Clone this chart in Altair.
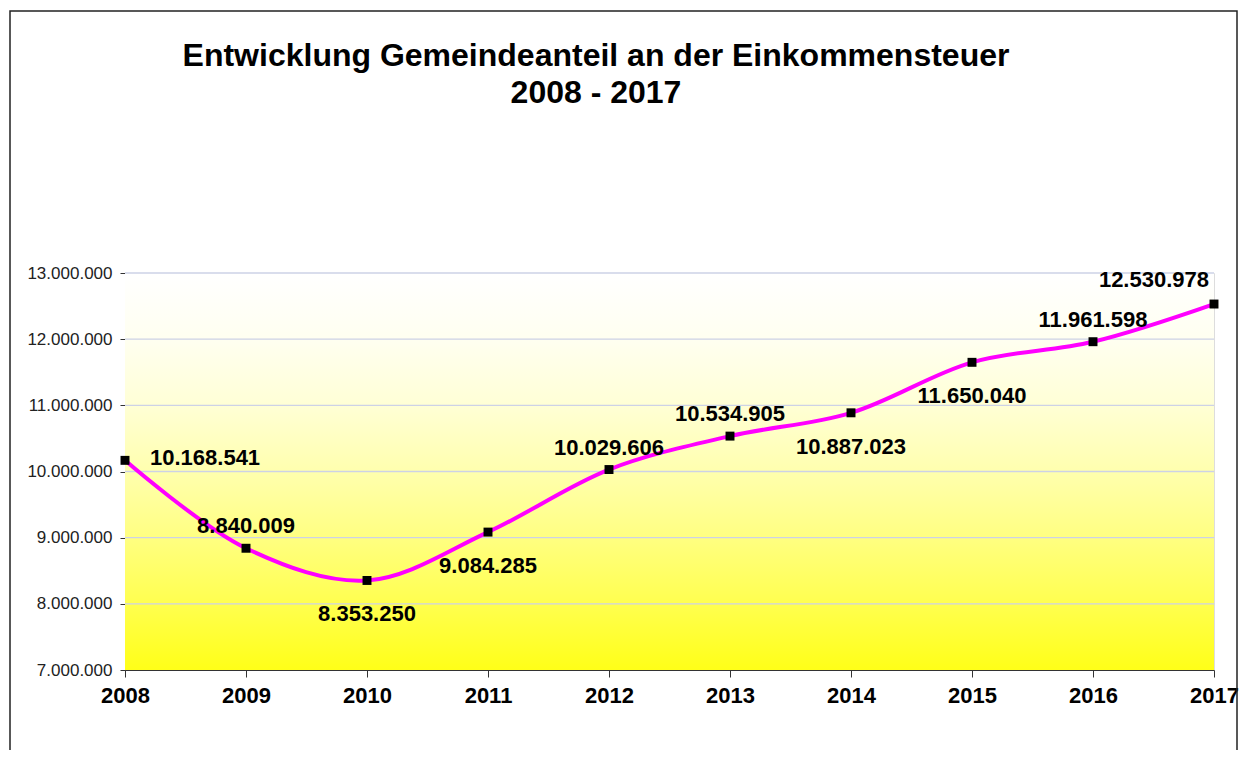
import altair as alt
import pandas as pd

years = [2008, 2009, 2010, 2011, 2012, 2013, 2014, 2015, 2016, 2017]
values = [10168541, 8840009, 8353250, 9084285, 10029606, 10534905, 10887023, 11650040, 11961598, 12530978]
label_side = ["right", "above", "below", "below", "above", "above", "below", "below", "above", "aboveleft"]
y_ticks = [7000000, 8000000, 9000000, 10000000, 11000000, 12000000, 13000000]

title_lines = ["Entwicklung Gemeindeanteil an der Einkommensteuer", "2008 - 2017"]

df = pd.DataFrame({"Jahr": years, "Wert": values, "Seite": label_side})
grid_df = pd.DataFrame({"Wert": y_ticks[1:]})

FONT = "Liberation Sans"

y_scale = alt.Scale(domain=[7000000, 13000000], nice=False, zero=False)

x_enc = alt.X("Jahr:Q",
              scale=alt.Scale(domain=[2008, 2017], nice=False, zero=False),
              axis=alt.Axis(values=years, format="d", title=None, grid=False,
                            labelFont=FONT, labelFontSize=22, labelFontWeight="bold",
                            labelColor="#000", labelPadding=8, tickSize=7, labelFlush=False,
                            tickColor="#333", domainColor="#333"))
y_enc = alt.Y("Wert:Q", scale=y_scale,
              axis=alt.Axis(values=y_ticks, format=",d", title=None, grid=False,
                            labelFlush=False,
                            labelFont=FONT, labelFontSize=17, labelColor="#222",
                            labelPadding=8, tickSize=5, tickColor="#333",
                            domainColor="#333"))

base = alt.Chart(df)
one = pd.DataFrame({"a": [0]})

bg = alt.Chart(one).mark_rect(
    fill=alt.Gradient(
        gradient="linear", x1=0, y1=0, x2=0, y2=1,
        stops=[
            alt.GradientStop(offset=0.0, color="#FFFFFF"),
            alt.GradientStop(offset=0.17, color="#FFFFF0"),
            alt.GradientStop(offset=0.33, color="#FFFFD6"),
            alt.GradientStop(offset=0.5, color="#FFFFAE"),
            alt.GradientStop(offset=0.67, color="#FFFF80"),
            alt.GradientStop(offset=0.83, color="#FFFF50"),
            alt.GradientStop(offset=1.0, color="#FFFF18"),
        ]),
    stroke=None
).encode(x=alt.value(0), x2=alt.value("width"), y=alt.value(0), y2=alt.value("height"))

grid = alt.Chart(grid_df).mark_rule(color="#CDD2E6", strokeWidth=1.3).encode(
    y=alt.Y("Wert:Q", scale=y_scale), x=alt.value(0), x2=alt.value("width"))

frame = alt.Chart(one).mark_rect(
    fill=None, stroke="#222", strokeWidth=1.5
).encode(x=alt.value(-115), x2=alt.value(1112), y=alt.value(-262), y2=alt.value(700))

title = alt.Chart(one).mark_text(
    text=title_lines, font=FONT, fontSize=32, fontWeight="bold", color="#000",
    align="center", baseline="alphabetic", lineHeight=37
).encode(x=alt.value(471), y=alt.value(-207))

line = base.mark_line(interpolate="catmull-rom", color="#FF00FF", strokeWidth=4).encode(x=x_enc, y=y_enc)
pts = base.mark_square(size=80, color="black", opacity=1).encode(x="Jahr:Q", y="Wert:Q")

def labels(side, **kw):
    return base.transform_filter(alt.datum.Seite == side).mark_text(
        font=FONT, fontSize=22, fontWeight="bold", color="#000", baseline="middle", **kw
    ).encode(x="Jahr:Q", y="Wert:Q", text=alt.Text("Wert:Q", format=",d"))

lab_right = labels("right", align="left", dx=25, dy=-2)
lab_above = labels("above", align="center", dx=0, dy=-22)
lab_below = labels("below", align="center", dx=0, dy=34)
lab_al = labels("aboveleft", align="right", dx=-5, dy=-24)

chart = alt.layer(frame, title, bg, grid, line, pts, lab_right, lab_above, lab_below, lab_al).properties(
    width=1089, height=397,
    padding={"left": 117, "top": 265, "right": 25, "bottom": 80},
    autosize=alt.AutoSizeParams(type="none"),
).configure_view(strokeWidth=0).configure(
    locale={"number": {"decimal": ",", "thousands": ".", "grouping": [3], "currency": ["", " €"]}}
)

chart.save("out.html", embed_options={"renderer": "svg", "actions": False})
